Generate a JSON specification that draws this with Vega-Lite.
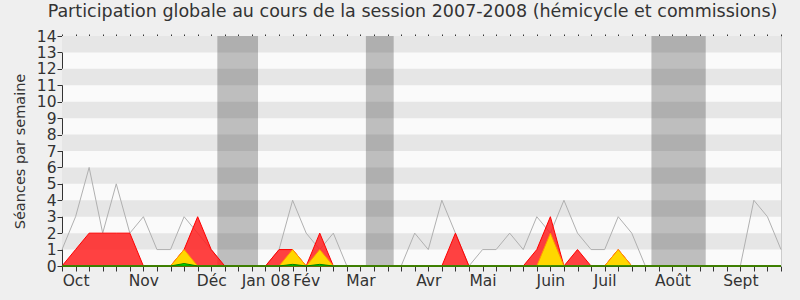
{
  "$schema": "https://vega.github.io/schema/vega-lite/v6.json",
  "width": 719,
  "height": 230,
  "autosize": {"type": "none"},
  "padding": {"left": 62, "top": 36, "right": 19, "bottom": 34},
  "background": "#efefef",
  "title": {"text": "Participation globale au cours de la session 2007-2008 (hémicycle et commissions)", "font": "DejaVu Sans", "fontSize": 17.5, "fontWeight": "normal", "color": "#333333", "anchor": "middle", "dx": -9, "offset": 9},
  "config": {"view": {"stroke": null, "fill": "#fafafa"}, "font": "DejaVu Sans"},
  "datasets": {
    "stripes": [
      {"lo": 1, "hi": 2}, {"lo": 3, "hi": 4}, {"lo": 5, "hi": 6}, {"lo": 7, "hi": 8},
      {"lo": 9, "hi": 10}, {"lo": 11, "hi": 12}, {"lo": 13, "hi": 14}
    ],
    "vacances": [
      {"start": 11.45, "end": 14.45},
      {"start": 22.4, "end": 24.45},
      {"start": 43.45, "end": 47.45}
    ],
    "weeks": [
      {"w": 0, "total": 1, "red": 0, "yellow": 0, "green": 0},
      {"w": 1, "total": 3, "red": 1, "yellow": 0, "green": 0},
      {"w": 2, "total": 6, "red": 2, "yellow": 0, "green": 0},
      {"w": 3, "total": 2, "red": 2, "yellow": 0, "green": 0},
      {"w": 4, "total": 5, "red": 2, "yellow": 0, "green": 0},
      {"w": 5, "total": 2, "red": 2, "yellow": 0, "green": 0},
      {"w": 6, "total": 3, "red": 0, "yellow": 0, "green": 0},
      {"w": 7, "total": 1, "red": 0, "yellow": 0, "green": 0},
      {"w": 8, "total": 1, "red": 0, "yellow": 0, "green": 0},
      {"w": 9, "total": 3, "red": 1, "yellow": 1, "green": 0.15},
      {"w": 10, "total": 2, "red": 3, "yellow": 0, "green": 0},
      {"w": 11, "total": 1, "red": 1, "yellow": 0, "green": 0},
      {"w": 12, "total": 0, "red": 0, "yellow": 0, "green": 0},
      {"w": 13, "total": 0, "red": 0, "yellow": 0, "green": 0},
      {"w": 14, "total": 0, "red": 0, "yellow": 0, "green": 0},
      {"w": 15, "total": 0, "red": 0, "yellow": 0, "green": 0},
      {"w": 16, "total": 1, "red": 1, "yellow": 0, "green": 0},
      {"w": 17, "total": 4, "red": 1, "yellow": 1, "green": 0.1},
      {"w": 18, "total": 2, "red": 0, "yellow": 0, "green": 0},
      {"w": 19, "total": 1, "red": 2, "yellow": 1, "green": 0.1},
      {"w": 20, "total": 2, "red": 0, "yellow": 0, "green": 0},
      {"w": 21, "total": 0, "red": 0, "yellow": 0, "green": 0},
      {"w": 22, "total": 0, "red": 0, "yellow": 0, "green": 0},
      {"w": 23, "total": 0, "red": 0, "yellow": 0, "green": 0},
      {"w": 24, "total": 0, "red": 0, "yellow": 0, "green": 0},
      {"w": 25, "total": 0, "red": 0, "yellow": 0, "green": 0},
      {"w": 26, "total": 2, "red": 0, "yellow": 0, "green": 0},
      {"w": 27, "total": 1, "red": 0, "yellow": 0, "green": 0},
      {"w": 28, "total": 4, "red": 0, "yellow": 0, "green": 0},
      {"w": 29, "total": 2, "red": 2, "yellow": 0, "green": 0},
      {"w": 30, "total": 0, "red": 0, "yellow": 0, "green": 0},
      {"w": 31, "total": 1, "red": 0, "yellow": 0, "green": 0},
      {"w": 32, "total": 1, "red": 0, "yellow": 0, "green": 0},
      {"w": 33, "total": 2, "red": 0, "yellow": 0, "green": 0},
      {"w": 34, "total": 1, "red": 0, "yellow": 0, "green": 0},
      {"w": 35, "total": 3, "red": 1, "yellow": 0, "green": 0},
      {"w": 36, "total": 2, "red": 3, "yellow": 2, "green": 0},
      {"w": 37, "total": 4, "red": 0, "yellow": 0, "green": 0},
      {"w": 38, "total": 2, "red": 1, "yellow": 0, "green": 0},
      {"w": 39, "total": 1, "red": 0, "yellow": 0, "green": 0},
      {"w": 40, "total": 1, "red": 0, "yellow": 0, "green": 0},
      {"w": 41, "total": 3, "red": 1, "yellow": 1, "green": 0},
      {"w": 42, "total": 2, "red": 0, "yellow": 0, "green": 0},
      {"w": 43, "total": 0, "red": 0, "yellow": 0, "green": 0},
      {"w": 44, "total": 0, "red": 0, "yellow": 0, "green": 0},
      {"w": 45, "total": 0, "red": 0, "yellow": 0, "green": 0},
      {"w": 46, "total": 0, "red": 0, "yellow": 0, "green": 0},
      {"w": 47, "total": 0, "red": 0, "yellow": 0, "green": 0},
      {"w": 48, "total": 0, "red": 0, "yellow": 0, "green": 0},
      {"w": 49, "total": 0, "red": 0, "yellow": 0, "green": 0},
      {"w": 50, "total": 0, "red": 0, "yellow": 0, "green": 0},
      {"w": 51, "total": 4, "red": 0, "yellow": 0, "green": 0},
      {"w": 52, "total": 3, "red": 0, "yellow": 0, "green": 0},
      {"w": 53, "total": 1, "red": 0, "yellow": 0, "green": 0}
    ]
  },
  "layer": [
    {
      "data": {"name": "stripes"},
      "mark": {"type": "rect", "fill": "#e6e6e6"},
      "encoding": {
        "x": {"datum": 0, "type": "quantitative", "scale": {"domain": [0, 53], "nice": false, "zero": false},
              "axis": {"orient": "top", "labels": false, "domain": false, "title": null, "tickSize": 2, "tickColor": "#333333", "values": [0,1,2,3,4,5,6,7,8,9,10,11,12,13,14,15,16,17,18,19,20,21,22,23,24,25,26,27,28,29,30,31,32,33,34,35,36,37,38,39,40,41,42,43,44,45,46,47,48,49,50,51,52,53], "grid": false}},
        "x2": {"datum": 53},
        "y": {"field": "lo", "type": "quantitative", "scale": {"domain": [0, 14], "nice": false},
              "axis": {"orient": "right", "labels": false, "ticks": false, "grid": false, "title": null, "domainColor": "#cccccc"}},
        "y2": {"field": "hi"}
      }
    },
    {
      "data": {"name": "vacances"},
      "mark": {"type": "rect", "fill": "#000000", "opacity": 0.24},
      "encoding": {
        "x": {"field": "start", "type": "quantitative", "axis": null},
        "x2": {"field": "end"},
        "y": {"datum": 0, "type": "quantitative", "axis": null},
        "y2": {"datum": 14}
      }
    },
    {
      "data": {"name": "weeks"},
      "mark": {"type": "line", "stroke": "#b0b0b0", "strokeWidth": 1},
      "encoding": {
        "x": {"field": "w", "type": "quantitative",
              "axis": {"orient": "bottom", "title": null, "grid": false, "values": [0,1,2,3,4,5,6,7,8,9,10,11,12,13,14,15,16,17,18,19,20,21,22,23,24,25,26,27,28,29,30,31,32,33,34,35,36,37,38,39,40,41,42,43,44,45,46,47,48,49,50,51,52,53],
                       "labelExpr": "datum.value==1?'Oct':datum.value==6?'Nov':datum.value==11?'Déc':datum.value==15?'Jan 08':datum.value==18?'Fév':datum.value==22?'Mar':datum.value==27?'Avr':datum.value==31?'Mai':datum.value==36?'Juin':datum.value==40?'Juil':datum.value==45?'Août':datum.value==50?'Sept':''",
                       "labelOverlap": false, "labelFlush": false, "labelFont": "DejaVu Sans", "labelFontSize": 15.5, "labelColor": "#333333", "labelPadding": 2,
                       "tickSize": 5, "tickColor": "#333333", "domainColor": "#333333"}},
        "y": {"field": "total", "type": "quantitative",
              "axis": {"orient": "left", "title": "Séances par semaine", "grid": false, "values": [0,1,2,3,4,5,6,7,8,9,10,11,12,13,14],
                       "labelFont": "DejaVu Sans", "labelFontSize": 15.5, "labelColor": "#333333", "labelPadding": 1,
                       "tickSize": 5, "tickColor": "#333333", "domainColor": "#333333",
                       "titleFont": "DejaVu Sans", "titleFontSize": 14.5, "titleFontWeight": "normal", "titleColor": "#333333", "titlePadding": 9}}
      }
    },
    {
      "data": {"name": "weeks"},
      "mark": {"type": "area", "fill": "#ff2020", "fillOpacity": 0.85, "stroke": "#ff0000", "strokeWidth": 1},
      "encoding": {
        "x": {"field": "w", "type": "quantitative", "axis": null},
        "y": {"field": "red", "type": "quantitative", "axis": null}
      }
    },
    {
      "data": {"name": "weeks"},
      "mark": {"type": "area", "fill": "#ffd700", "stroke": "#ff9900", "strokeWidth": 1},
      "encoding": {
        "x": {"field": "w", "type": "quantitative", "axis": null},
        "y": {"field": "yellow", "type": "quantitative", "axis": null}
      }
    },
    {
      "data": {"name": "weeks"},
      "mark": {"type": "area", "fill": "#00e000", "stroke": "#008000", "strokeWidth": 1},
      "encoding": {
        "x": {"field": "w", "type": "quantitative", "axis": null},
        "y": {"field": "green", "type": "quantitative", "axis": null}
      }
    }
  ],
  "resolve": {"axis": {"x": "independent", "y": "independent"}}
}
